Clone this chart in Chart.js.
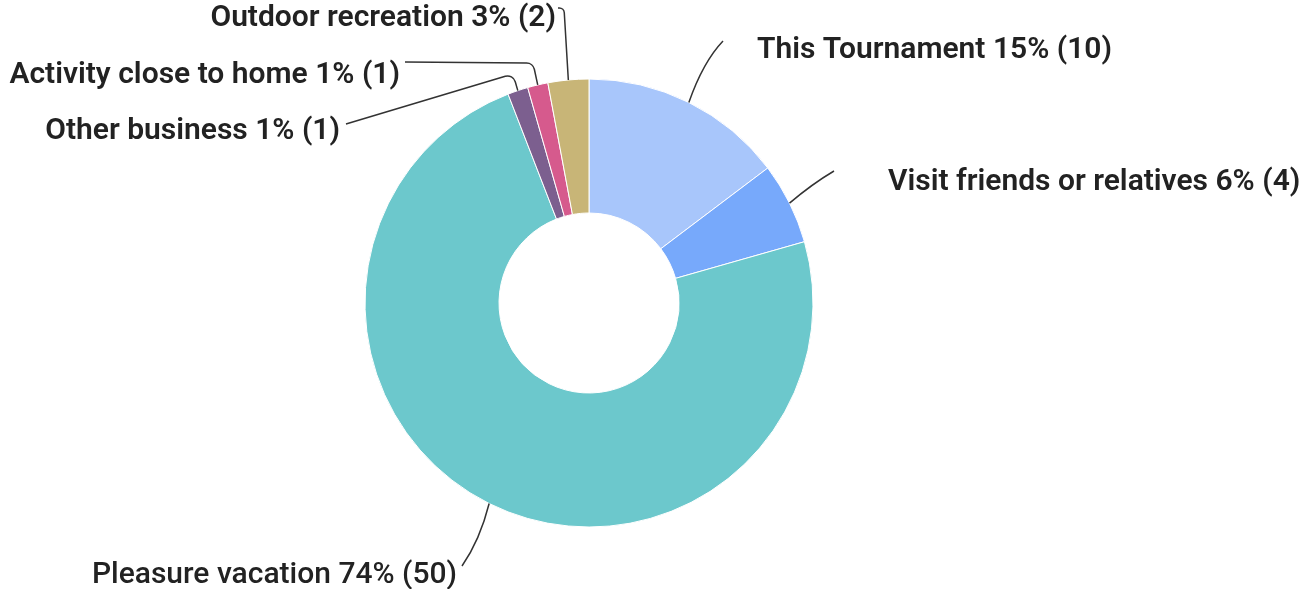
<!DOCTYPE html>
<html>
<head>
<meta charset="utf-8">
<script src="https://cdn.jsdelivr.net/npm/chart.js@4.4.1/dist/chart.umd.min.js"></script>
<style>
  html, body { margin: 0; padding: 0; background: #fff; }
  #wrap { width: 1311px; height: 589px; }
</style>
</head>
<body>
<div id="wrap"><canvas id="pie" width="1311" height="589"></canvas></div>
<script>
// survey answers, clockwise from 12 o'clock
const categories = ['This Tournament', 'Visit friends or relatives', 'Pleasure vacation', 'Other business', 'Activity close to home', 'Outdoor recreation'];
const counts = [10, 4, 50, 1, 1, 2];
const colors = ['#a8c6fb', '#77a9fb', '#6cc8cc', '#7c5f8f', '#d65a8d', '#c8b577'];

// where each outside label sits and how its leader line bends
const labelLayout = [
  { x: 757, y: 50, align: 'left', elbow: [703, 62], end: [723, 41], w: 600 },
  { x: 888, y: 182, align: 'left', elbow: [812, 184], end: [834, 171], w: 600 },
  { x: 457, y: 575, align: 'right', elbow: [480, 540], end: [462, 566], w: 500 },
  { x: 340, y: 131, align: 'right', elbow: [513, 74], end: [346, 124], r: 8, w: 600 },
  { x: 400, y: 75, align: 'right', elbow: [533, 63], end: [405, 62], r: 8, w: 600 },
  { x: 556, y: 18, align: 'right', elbow: [564, 8], end: [558, 8], r: 5, w: 600 }
];

const total = counts.reduce((s, v) => s + v, 0);

const outsideLabels = {
  id: 'outsideLabels',
  afterDatasetsDraw(chart) {
    const ctx = chart.ctx;
    const arcs = chart.getDatasetMeta(0).data;
    ctx.save();
    arcs.forEach((arc, i) => {
      const p = arc.getProps(['x', 'y', 'startAngle', 'endAngle', 'outerRadius'], true);
      const mid = (p.startAngle + p.endAngle) / 2;
      const sx = p.x + Math.cos(mid) * p.outerRadius;
      const sy = p.y + Math.sin(mid) * p.outerRadius;
      const L = labelLayout[i];

      // leader line
      ctx.beginPath();
      ctx.strokeStyle = '#333';
      ctx.lineWidth = 1.5;
      ctx.moveTo(sx, sy);
      if (L.r) {
        ctx.arcTo(L.elbow[0], L.elbow[1], L.end[0], L.end[1], L.r);
        ctx.lineTo(L.end[0], L.end[1]);
      } else {
        ctx.quadraticCurveTo(L.elbow[0], L.elbow[1], L.end[0], L.end[1]);
      }
      ctx.stroke();

      // text
      const pct = Math.round(counts[i] / total * 100);
      const txt = categories[i] + ' ' + pct + '% (' + counts[i] + ')';
      ctx.font = L.w + ' 30px Roboto';
      ctx.fillStyle = '#222';
      ctx.textAlign = L.align;
      ctx.textBaseline = 'middle';
      ctx.fillText(txt, L.x, L.y);
    });
    ctx.restore();
  }
};

new Chart(document.getElementById('pie'), {
  type: 'doughnut',
  data: {
    labels: categories,
    datasets: [{
      data: counts,
      backgroundColor: colors,
      borderColor: '#fff',
      borderWidth: 1
    }]
  },
  options: {
    responsive: false,
    animation: false,
    cutout: 90,
    layout: { padding: { left: 364.5, right: 497.5, top: 78.5, bottom: 61.5 } },
    plugins: {
      legend: { display: false },
      tooltip: { enabled: false }
    }
  },
  plugins: [outsideLabels]
});
</script>
</body>
</html>
